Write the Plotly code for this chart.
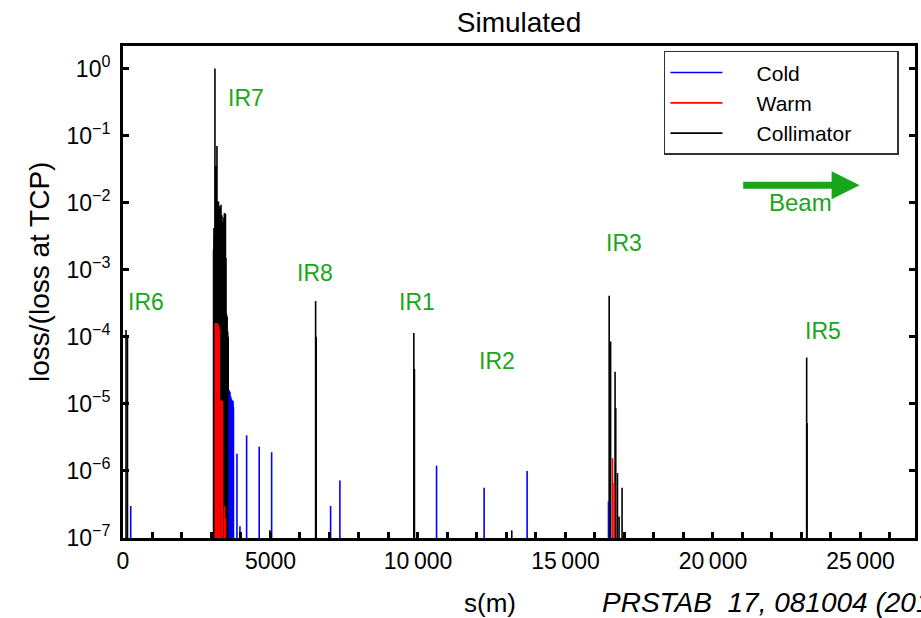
import plotly.graph_objects as go

# loss maps: s position (m) and normalised loss
coll_s = [102, 152, 3070, 3083, 3100, 3117, 3141, 3162, 3185, 3209, 3236, 3255, 3270, 3290,
          3300, 3321, 3340, 3355, 3372, 3389, 3405, 3420, 3439, 3456, 3473, 3490, 3507,
          3530, 3550, 3567, 3592, 4000, 4980,
          6530, 6550, 9860, 9880, 13180,
          16482, 16530, 16682, 16705, 16763, 16818, 16919, 23177, 23190]
coll_v = [1.26e-4, 1.0e-4, 2.0e-3, 4.2e-3, 3.0e-3, 1.0, 0.035, 0.035, 0.07, 0.0104, 0.0104,
          0.009, 0.008, 0.0075, 0.0085, 0.0093, 0.0055, 0.0065, 0.005, 0.0045, 0.005,
          0.006, 0.007, 0.0062, 0.0068, 1.5e-3, 2.2e-4, 2.0e-4, 1.2e-4, 1.0e-4, 1.6e-5,
          1.1e-7, 1.3e-7,
          3.4e-4, 1.0e-4, 1.14e-4, 3.3e-5, 1.3e-7,
          4.1e-4, 8.5e-5, 3.0e-5, 8.7e-6, 9.3e-7, 2.1e-7, 5.6e-7, 4.9e-5, 5.2e-6]

cold_s = [261, 3602, 3626, 3650, 3670, 3694, 3715, 3728, 3745, 3863, 3965, 4191, 4618, 5039,
          7038, 7353, 10630, 12243, 13700, 16458]
cold_v = [3.0e-7, 1.6e-5, 1.5e-5, 1.3e-5, 1.2e-5, 1.15e-5, 1.1e-5, 1.1e-5, 9.0e-6, 1.8e-6,
          1.5e-7, 3.4e-6, 2.3e-6, 1.9e-6,
          3.0e-7, 7.2e-7, 1.2e-6, 5.6e-7, 1.0e-6, 3.5e-7]

warm_s = [3128, 3151, 3175, 3202, 3236, 3263, 3321, 3350, 3372, 3439, 3473, 16594, 16648]
warm_v = [1.6e-4, 1.6e-4, 1.4e-4, 1.6e-4, 1.5e-4, 1.3e-4, 1.15e-5, 1.1e-5, 1.1e-5,
          3.0e-7, 2.0e-7, 1.55e-6, 6.6e-7]

# region labels: name, s (m), log10(loss)
ir_names = ["IR6", "IR7", "IR8", "IR1", "IR2", "IR3", "IR5"]
ir_s = [780, 4168, 6506, 9962, 12673, 16976, 23719]
ir_logy = [-3.48, -0.44, -3.05, -3.48, -4.36, -2.60, -3.91]

x_ticks = [0, 5000, 10000, 15000, 20000, 25000]
x_labels = ["0", "5000", "10\u2009000", "15\u2009000", "20\u2009000", "25\u2009000"]
y_exp = [0, -1, -2, -3, -4, -5, -6, -7]

YMIN = 1e-7
FONT = "Liberation Sans, Arial, Helvetica, sans-serif"
GREEN = "#1aa61a"
NB = "\u00a0"


def impulses(s, v):
    xs, ys = [], []
    for a, b in zip(s, v):
        xs += [a, a, None]
        ys += [YMIN, b, None]
    return xs, ys


fig = go.Figure()

for name, s, v, col, rank in [("Collimator", coll_s, coll_v, "black", 3),
                              ("Cold", cold_s, cold_v, "#0000ff", 1),
                              ("Warm", warm_s, warm_v, "#ff0000", 2)]:
    xs, ys = impulses(s, v)
    fig.add_trace(go.Scatter(x=xs, y=ys, mode="lines", name=NB * 5 + name + NB * 7,
                             legendrank=rank, line=dict(color=col, width=1.6)))

for n, s, ly in zip(ir_names, ir_s, ir_logy):
    fig.add_annotation(x=s, y=ly, text=n, showarrow=False,
                       font=dict(size=23, color=GREEN, family=FONT))

# beam direction arrow
fig.add_annotation(x=24973, y=-1.74, ax=20975, ay=-1.74, axref="x", ayref="y",
                   text="", showarrow=True, arrowhead=2, arrowsize=0.8,
                   arrowwidth=7, arrowcolor=GREEN)
fig.add_annotation(x=22974, y=-2.0, text="Beam", showarrow=False,
                   font=dict(size=24, color=GREEN, family=FONT))

fig.add_annotation(x=-0.1048, y=0.5407, xref="paper", yref="paper", textangle=-90,
                   xanchor="center", yanchor="middle",
                   text="loss/(loss at TCP)", showarrow=False,
                   font=dict(size=28, color="black", family=FONT))
fig.add_annotation(x=0.4634, y=-0.132, xref="paper", yref="paper", yanchor="middle",
                   xanchor="center", text="s(m)", showarrow=False,
                   font=dict(size=26, color="black", family=FONT))
fig.add_annotation(x=0.602, y=-0.132, xref="paper", yref="paper", xanchor="left",
                   yanchor="middle", text="<i>PRSTAB  17, 081004 (2014)</i>",
                   showarrow=False, font=dict(size=28, color="black", family=FONT))

fig.update_layout(
    width=921, height=618,
    margin=dict(l=123, r=6, t=46, b=80),
    plot_bgcolor="white", paper_bgcolor="white",
    font=dict(family=FONT, size=23, color="black"),
    title=dict(text="Simulated", x=0.5, xref="paper", y=0.9644, yref="container",
               xanchor="center", yanchor="middle", font=dict(size=28)),
    showlegend=True,
    legend=dict(x=0.683, y=0.99, xanchor="left", yanchor="top",
                bordercolor="#333", borderwidth=1.5, bgcolor="white",
                itemwidth=52, font=dict(size=21)),
    xaxis=dict(range=[0, 26850], showgrid=False, zeroline=False, automargin=False,
               showline=True, linecolor="black", linewidth=3, mirror=True,
               ticks="inside", ticklen=6, tickwidth=3, tickcolor="black",
               tickvals=x_ticks, ticktext=x_labels,
               minor=dict(ticks="inside", dtick=1000, ticklen=6, tickwidth=3,
                          tickcolor="black", showgrid=False)),
    yaxis=dict(type="log", range=[-7, 0.335], showgrid=False, zeroline=False,
               automargin=False, ticklabelstandoff=5,
               showline=True, linecolor="black", linewidth=3, mirror="ticks",
               ticks="inside", ticklen=6, tickwidth=3, tickcolor="black",
               tickvals=[10.0 ** e for e in y_exp],
               ticktext=["10<sup>%s</sup>" % (str(e).replace("-", "\u2212")) for e in y_exp]),
)

# drop the browser's default body margin so the figure fills the window
fig.write_html("out.html", config={"displayModeBar": False},
               post_script="document.body.style.margin = '0';")
